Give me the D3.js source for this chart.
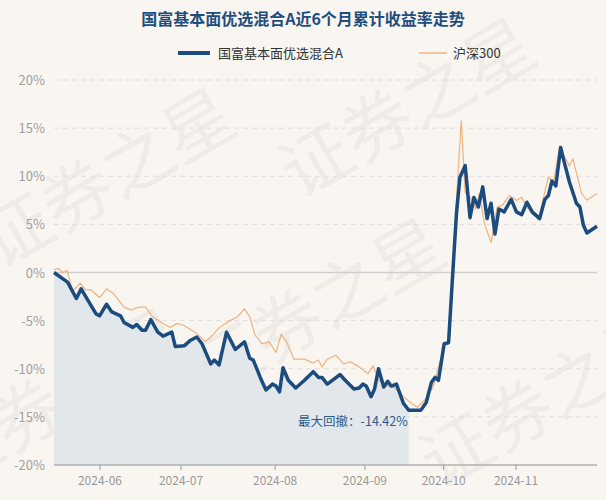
<!DOCTYPE html>
<html><head><meta charset="utf-8">
<script src="https://cdn.jsdelivr.net/npm/d3@7"></script>
<style>body{margin:0;background:#f9f6f1;}svg{display:block;font-family:"Noto Sans CJK SC","Noto Sans",sans-serif;}</style>
</head><body><svg id="c" width="606" height="500"></svg>
<script>
const title = "国富基本面优选混合A近6个月累计收益率走势";
const seriesNames = ["国富基本面优选混合A", "沪深300"];
// trading-day index and cumulative return (%)
const fundDay = [0,3.1,5.1,6.2,9.6,10.4,12.0,13.2,15.2,16.0,18.0,18.9,20.1,20.9,22.1,23.7,24.9,26.9,27.7,29.8,31.0,32.6,33.8,35.8,36.6,37.7,39.4,41.4,43.5,44.7,45.5,47.1,48.4,49.9,50.7,51.5,52.3,53.5,55.2,57.2,59.2,60.4,61.2,62.4,65.3,66.5,68.5,69.7,70.5,71.3,72.4,73.2,74.1,75.3,76.2,77.0,78.2,79.8,81.0,83.0,83.8,85.0,86.2,87.0,87.8,89.1,90.1,91.1,91.9,92.7,93.9,95.0,95.9,96.9,97.9,98.9,99.8,100.7,101.6,102.8,104.4,105.6,106.8,108.0,109.2,110.9,112.1,112.9,113.7,114.6,115.7,116.5,117.7,119.3,120.1,120.9,121.7,124];
const fund = [0,-1.0,-2.7,-1.7,-4.3,-4.5,-3.3,-4.1,-4.5,-5.2,-5.7,-5.4,-6.0,-6.0,-4.9,-6.2,-6.6,-6.2,-7.7,-7.6,-7.1,-6.7,-7.4,-9.5,-9.1,-9.6,-6.2,-8.0,-7.2,-8.9,-9.1,-10.9,-12.2,-11.6,-11.8,-12.4,-9.9,-11.2,-12.0,-11.2,-10.3,-10.9,-10.9,-11.6,-10.6,-11.2,-12.1,-12.0,-11.6,-11.8,-12.9,-12.1,-10.0,-11.9,-11.3,-11.8,-11.6,-13.6,-14.3,-14.3,-14.3,-13.5,-11.4,-10.9,-11.2,-7.4,-7.3,0.2,6.1,9.9,11.1,5.7,7.8,6.8,8.9,5.6,7.2,4.0,6.6,6.3,7.6,6.3,6.0,7.3,6.3,5.6,7.6,8.0,9.5,9.0,13.0,11.5,9.4,7.2,6.8,4.9,4.1,4.8];
const hsDay = [0,1.1,1.9,3.0,4.3,6.0,7.2,8.4,10.4,12.0,13.6,16.0,17.6,19.3,20.9,22.5,24.9,26.5,28.1,29.7,32.2,34.6,36.2,37.8,40.2,41.9,43.5,44.7,45.9,47.5,49.1,50.7,51.9,53.1,54.8,57.2,59.2,60.4,61.2,62.4,64.4,66.1,67.7,69.3,71.7,72.9,74.1,75.7,77.8,79.8,81.4,83.0,84.6,86.6,87.8,89.1,90.3,91.1,91.9,93.0,93.9,95.1,96.3,97.1,98.3,99.8,101.2,102.4,104.0,105.6,106.8,108.0,109.2,110.8,111.6,112.9,114.1,115.3,116.5,117.7,118.5,120.5,121.7,124];
const hs300 = [0.3,0.4,0,0.2,-1.9,-1.1,-1.8,-1.8,-2.6,-1.7,-2.2,-3.6,-3.9,-3.6,-3.6,-4.6,-5.3,-5.7,-5.3,-5.5,-6.2,-7.2,-6.5,-5.7,-5.0,-4.6,-3.8,-4.6,-6.5,-7.4,-7.2,-8.3,-6.4,-7.2,-9.0,-9.0,-9.4,-9.1,-9.8,-9.0,-8.6,-9.5,-9.3,-9.7,-10.5,-9.7,-11.2,-11.7,-12.0,-12.9,-13.5,-14.0,-13.3,-11.9,-9.8,-7.6,-7.1,-0.5,7.5,15.8,8.3,7.8,6.6,8.2,5.1,3.1,6.8,7.0,8.0,7.5,7.8,6.8,6.1,5.7,7.5,9.9,9.4,12.7,12.1,11.1,11.8,8.2,7.5,8.2];
const yTicks = [20,15,10,5,0,-5,-10,-15,-20];
const monthLabels = ["2024-06","2024-07","2024-08","2024-09","2024-10","2024-11"];
const monthDay = [10.5,29,50.5,71,89,105.5];
const totalDays = 124;
const ddLabel = "最大回撤：-14.42%";

const svg = d3.select("#c");
const L=54,R=597,T=80,B=465;
const x = d3.scaleLinear().domain([0,totalDays]).range([L,R]);
const y = d3.scaleLinear().domain([-20,20]).range([B,T]);
const fp = fund.map((v,i)=>[fundDay[i],v]);
const hp = hs300.map((v,i)=>[hsDay[i],v]);

// watermark
[[120,200],[420,130],[330,330],[70,420],[560,420]].forEach(([a,b])=>{
  svg.append("text").attr("transform",`translate(${a},${b}) rotate(-30)`).attr("text-anchor","middle")
    .attr("font-size",70).attr("fill","#000").attr("opacity",0.035).text("证券之星");
});

// grid
svg.selectAll(".g").data(yTicks).enter().append("line")
  .attr("x1",L).attr("x2",R).attr("y1",d=>y(d)).attr("y2",d=>y(d))
  .attr("stroke",d=>d===0?"#cfcfcf":"#dedede").attr("stroke-width",d=>d===0?1.5:1)
  .attr("stroke-dasharray",d=>d===0||d===-20?null:"5,4");
svg.selectAll(".yl").data(yTicks).enter().append("text")
  .attr("x",45).attr("y",d=>y(d)+5).attr("text-anchor","end").attr("font-size",13).attr("fill","#a0a0a0")
  .text(d=>d+"%");

// drawdown area
const minV = d3.min(fund), minI = fund.indexOf(minV);
svg.append("path").datum(fp.slice(0,minI+1))
  .attr("d",d3.area().x(d=>x(d[0])).y0(B).y1(d=>y(d[1])))
  .attr("fill","#dfe5ea").attr("opacity",0.9);
svg.append("text").attr("x",x(fp[minI][0])-1).attr("y",y(-15.4)+5).attr("text-anchor","end")
  .attr("font-size",12.5).attr("fill","#2d5a8c").text(ddLabel);

// x axis
svg.append("line").attr("x1",L).attr("x2",R).attr("y1",B).attr("y2",B).attr("stroke","#999");
monthDay.forEach((d,i)=>{
  svg.append("line").attr("x1",x(d)).attr("x2",x(d)).attr("y1",B).attr("y2",B+5).attr("stroke","#999");
  svg.append("text").attr("x",x(d)).attr("y",B+20).attr("text-anchor","middle").attr("font-size",12).attr("fill","#999").text(monthLabels[i]);
});

const line = d3.line().x(d=>x(d[0])).y(d=>y(d[1]));
svg.append("path").datum(hp).attr("d",line).attr("fill","none").attr("stroke","#f0b27e").attr("stroke-width",1.2);
svg.append("path").datum(fp).attr("d",line).attr("fill","none").attr("stroke","#1c4b7d").attr("stroke-width",3.5).attr("stroke-linejoin","round");

// title & legend
svg.append("text").attr("x",303).attr("y",25).attr("text-anchor","middle").attr("font-size",16).attr("font-weight","bold").attr("fill","#1f4e7e").text(title);
svg.append("line").attr("x1",178).attr("x2",210).attr("y1",53).attr("y2",53).attr("stroke","#1c4b7d").attr("stroke-width",4);
svg.append("text").attr("x",218).attr("y",58).attr("font-size",13).attr("fill","#333").text(seriesNames[0]);
svg.append("line").attr("x1",419).attr("x2",447).attr("y1",53).attr("y2",53).attr("stroke","#f0b27e").attr("stroke-width",1.5);
svg.append("text").attr("x",453).attr("y",58).attr("font-size",13).attr("fill","#333").text(seriesNames[1]);
</script></body></html>
